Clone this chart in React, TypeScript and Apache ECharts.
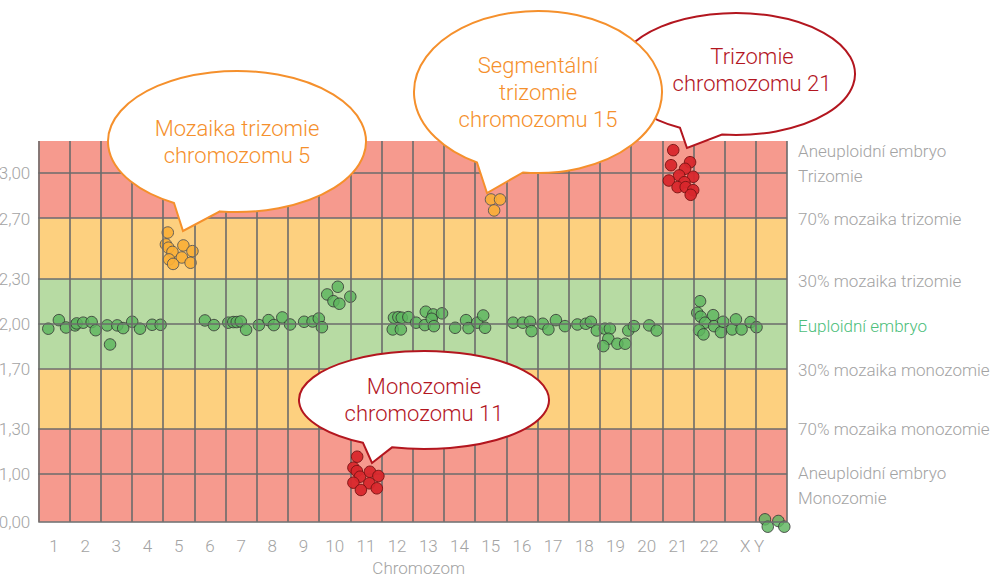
import React, { useEffect, useRef } from "react";
import * as echarts from "echarts";

// ---------- data ----------
const CHROMOSOMES = ["1","2","3","4","5","6","7","8","9","10","11","12","13","14","15","16","17","18","19","20","21","22","X","Y"];

const Y_TICKS = [0, 1, 1.3, 1.7, 2, 2.3, 2.7, 3];
const Y_TICK_LABELS = ["0,00", "1,00", "1,30", "1,70", "2,00", "2,30", "2,70", "3,00"];
const Y_TOP = 3.216;

const ZONE_LABELS = [
  "Aneuploidní embryo\nTrizomie",
  "70% mozaika trizomie",
  "30% mozaika trizomie",
  "Euploidní embryo",
  "30% mozaika monozomie",
  "70% mozaika monozomie",
  "Aneuploidní embryo\nMonozomie",
];
const ZONE_LABEL_VALUES = [3.065, 2.7, 2.285, 1.985, 1.69, 1.3, 0.753];

const BAND_EDGES = [0, 1.3, 1.7, 2.3, 2.7, Y_TOP];

// [position along chromosome axis, copy-number ratio]
const EUPLOID: number[][] = [
  [0.32,1.967],[0.66,2.024],[0.89,1.975],[1.18,1.989],[1.23,2.002],[1.44,2.007],[1.71,2.011],[1.84,1.957],
  [2.21,1.989],[2.30,1.862],[2.53,1.989],[2.72,1.971],[3.01,2.013],[3.26,1.967],[3.65,1.993],[3.92,1.993],
  [5.34,2.022],[5.63,1.991],[6.09,2.007],[6.25,2.011],[6.36,2.011],[6.49,2.015],[6.66,1.960],[7.07,1.991],
  [7.38,2.024],[7.55,1.991],[7.82,2.042],[8.07,1.995],[8.52,2.013],[8.79,2.015],[8.99,2.035],[9.09,1.977],
  [9.26,2.195],[9.60,2.246],[9.46,2.150],[9.65,2.133],[10.0,2.180],
  [11.40,2.040],[11.54,2.044],[11.65,2.040],[11.86,2.044],[11.36,1.962],[11.62,1.962],
  [12.11,2.007],[12.42,2.080],[12.39,1.991],[12.66,2.062],[12.61,2.033],[12.94,2.069],[12.68,1.984],
  [13.36,1.973],[13.71,2.024],[13.79,1.971],[14.07,2.007],[14.26,2.055],[14.32,1.973],
  [15.22,2.007],[15.53,2.007],[15.76,2.013],[15.81,1.951],[16.17,2.0],[16.35,1.962],[16.59,2.024],[16.88,1.984],
  [17.28,1.995],[17.55,2.0],[17.71,2.013],[17.90,1.955],[18.16,1.967],[18.32,1.967],[18.27,1.900],[18.11,1.851],
  [18.56,1.867],[18.81,1.867],[18.91,1.955],[19.09,1.984],[19.58,1.989],[19.82,1.955],
  [21.21,2.150],[21.12,2.073],[21.23,2.047],[21.37,2.007],[21.63,2.057],[21.66,1.984],[21.18,1.957],[21.32,1.929],
  [21.88,1.944],[21.95,2.013],[22.24,1.962],[22.36,2.029],[22.54,1.962],[22.83,2.011],[23.02,1.977],
];
const SEX_CHROMOSOMES: number[][] = [[23.29,0.05],[23.38,-0.105],[23.72,0.015],[23.91,-0.105]];
const MOSAIC_TRISOMY_5: number[][] = [
  [4.15,2.607],[4.09,2.528],[4.17,2.506],[4.30,2.478],[4.65,2.521],[4.94,2.483],[4.60,2.441],[4.19,2.428],[4.32,2.398],[4.88,2.406],
];
const SEGMENTAL_TRISOMY_15: number[][] = [[14.51,2.827],[14.80,2.827],[14.61,2.754]];
const TRISOMY_21: number[][] = [
  [20.35,3.155],[20.28,3.055],[20.89,3.075],[20.73,3.031],[20.54,2.987],[20.99,2.978],[20.21,2.953],[20.71,2.942],
  [20.49,2.909],[20.75,2.909],[20.99,2.889],[20.91,2.858],
];
const MONOSOMY_11: number[][] = [
  [10.22,1.115],[10.10,1.042],[10.21,1.019],[10.31,0.943],[10.63,1.015],[10.90,0.958],[10.10,0.818],[10.61,0.805],[10.34,0.665],[10.85,0.700],
];

const BUBBLE_TEXTS = [
  "Mozaika trizomie\nchromozomu 5",
  "Segmentální\ntrizomie\nchromozomu 15",
  "Trizomie\nchromozomu 21",
  "Monozomie\nchromozomu 11",
];

// ---------- styles ----------
const RED_BAND = "#F69A8E";
const ORANGE_BAND = "#FDD07F";
const GREEN_BAND = "#B7DBA3";
const BAND_COLORS = [RED_BAND, ORANGE_BAND, GREEN_BAND, ORANGE_BAND, RED_BAND];
const GRID_LINE = "#6b6b6b";
const LABEL_GRAY = "#a3a3a3";
const ORANGE = "#F5902C";
const DARK_RED = "#B3161F";
const FONT = "Roboto";

// display transform: the 0..1 segment is compressed
const LOW_SCALE = 0.3174;
const toDisplay = (v: number) => (v >= 1 ? LOW_SCALE + (v - 1) : v * LOW_SCALE);

// ---------- bubble shapes ----------
function bubblePath(cx: number, cy: number, rx: number, ry: number, ax1: number, ax2: number, tx: number, ty: number) {
  const y1 = cy + ry * Math.sqrt(1 - ((ax1 - cx) / rx) ** 2);
  const y2 = cy + ry * Math.sqrt(1 - ((ax2 - cx) / rx) ** 2);
  return `M${ax2} ${y2} A${rx} ${ry} 0 1 0 ${ax1} ${y1} L${tx} ${ty} Z`;
}
const BUBBLES = [
  { name: "bubbleChr5", d: bubblePath(237, 141.5, 129, 70.5, 174, 220, 183, 231), cx: 237, cy: 141.5, color: ORANGE, z: 110 },
  { name: "bubbleChr15", d: bubblePath(538, 92, 124, 81, 477, 523, 487, 193), cx: 538, cy: 92, color: ORANGE, z: 120 },
  { name: "bubbleChr21", d: bubblePath(736, 74, 119, 61, 680, 722, 687, 148), cx: 752, cy: 70, color: DARK_RED, z: 100 },
  { name: "bubbleChr11", d: bubblePath(424, 400, 125, 49, 363, 392, 372, 463), cx: 424, cy: 400, color: DARK_RED, z: 130 },
];
let registered = false;
function registerBubbles() {
  if (registered) return;
  registered = true;
  BUBBLES.forEach((b) => {
    echarts.graphic.registerShape(b.name, echarts.graphic.extendPath(b.d, {}) as any);
  });
}

export default function App() {
  const ref = useRef<HTMLDivElement>(null);
  useEffect(() => {
    if (!ref.current) return;
    registerBubbles();
    const chart = echarts.init(ref.current, null, { renderer: "svg" });

    const toPts = (arr: number[][]) => arr.map((p) => [p[0], toDisplay(p[1])]);
    const yMax = toDisplay(Y_TOP);

    const labelFor = (values: number[], labels: string[]) => (val: number) => {
      const i = values.findIndex((t) => Math.abs(toDisplay(t) - val) < 1e-6);
      if (i < 0) return "";
      if (labels[i] === "Euploidní embryo") return "{g|" + labels[i] + "}";
      return labels[i];
    };

    const dotSeries = (data: number[][], fill: string, border: string, opacity: number, z: number) => ({
      type: "scatter",
      xAxisIndex: 1,
      yAxisIndex: 0,
      data: toPts(data),
      symbol: "circle",
      symbolSize: 11.5,
      clip: false,
      silent: true,
      z,
      itemStyle: { color: fill, borderColor: border, borderWidth: 1, opacity },
    });

    const graphics: any[] = [];
    BUBBLES.forEach((b, i) => {
      graphics.push({
        type: b.name,
        x: 0,
        y: 0,
        z: b.z,
        silent: true,
        style: { fill: "#ffffff", stroke: b.color, lineWidth: 2 },
      });
      graphics.push({
        type: "text",
        x: b.cx,
        y: b.cy,
        z: b.z + 1,
        silent: true,
        style: {
          text: BUBBLE_TEXTS[i],
          fill: b.color,
          fontSize: 22,
          fontFamily: FONT,
          fontWeight: 300,
          lineHeight: 27,
          align: "center",
          verticalAlign: "middle",
          textAlign: "center",
          textVerticalAlign: "middle",
        },
      });
    });

    chart.setOption({
      animation: false,
      grid: { left: 38.3, right: 212.9, top: 141, bottom: 57.3, containLabel: false, outerBoundsMode: "none" },
      xAxis: [
        {
          type: "category",
          data: CHROMOSOMES,
          boundaryGap: true,
          name: "Chromozom",
          nameLocation: "middle",
          nameGap: 38,
          nameTextStyle: { color: LABEL_GRAY, fontSize: 17, fontFamily: FONT, fontWeight: 300, padding: [0, 0, 0, 12] },
          axisLine: { show: false },
          axisTick: { show: false },
          splitLine: { show: false },
          axisLabel: {
            color: LABEL_GRAY,
            fontSize: 17,
            fontFamily: FONT,
            fontWeight: 300,
            margin: 16,
            interval: 0,
            formatter: (v: string) => (v === "X" ? "{x|X}" : v === "Y" ? "{y|Y}" : v),
            rich: {
              x: { color: LABEL_GRAY, fontSize: 17, fontFamily: FONT, fontWeight: 300, padding: [0, 0, 0, 10] },
              y: { color: LABEL_GRAY, fontSize: 17, fontFamily: FONT, fontWeight: 300, padding: [0, 25, 0, 0] },
            },
          },
        },
        { type: "value", min: 0, max: 24, show: false },
      ],
      yAxis: [
        {
          type: "value",
          min: 0,
          max: yMax,
          axisLine: { show: false },
          axisTick: { show: false },
          splitLine: { show: false },
          axisLabel: {
            customValues: Y_TICKS.map(toDisplay),
            formatter: labelFor(Y_TICKS, Y_TICK_LABELS),
            color: LABEL_GRAY,
            fontSize: 17,
            fontFamily: FONT,
            fontWeight: 300,
            margin: 8,
          },
        },
        {
          type: "value",
          position: "right",
          min: 0,
          max: yMax,
          axisLine: { show: false },
          axisTick: { show: false },
          splitLine: { show: false },
          axisLabel: {
            customValues: ZONE_LABEL_VALUES.map(toDisplay),
            formatter: labelFor(ZONE_LABEL_VALUES, ZONE_LABELS),
            color: LABEL_GRAY,
            fontSize: 17,
            fontFamily: FONT,
            fontWeight: 300,
            lineHeight: 25,
            margin: 11,
            rich: {
              g: { color: "#4DBE7B", fontSize: 17, fontFamily: FONT, fontWeight: 300 },
            },
          },
        },
      ],
      series: [
        {
          type: "line",
          xAxisIndex: 1,
          yAxisIndex: 0,
          data: [],
          silent: true,
          z: 1,
          markArea: {
            silent: true,
            data: BAND_COLORS.map((c, i) => [
              { yAxis: toDisplay(BAND_EDGES[i]), itemStyle: { color: c } },
              { yAxis: toDisplay(BAND_EDGES[i + 1]) },
            ]),
          },
        },
        {
          type: "line",
          xAxisIndex: 1,
          yAxisIndex: 0,
          data: [],
          silent: true,
          z: 2,
          markLine: {
            silent: true,
            symbol: "none",
            label: { show: false },
            lineStyle: { color: GRID_LINE, width: 1.6, type: "solid" },
            emphasis: { disabled: true },
            data: [
              ...Y_TICKS.map((v) => ({ yAxis: toDisplay(v) })),
              ...CHROMOSOMES.map((_, i) => ({ xAxis: i })),
              { xAxis: CHROMOSOMES.length },
            ],
          },
        },
        dotSeries(EUPLOID, "#5DB45E", "#333333", 0.82, 3),
        dotSeries(SEX_CHROMOSOMES, "#5DB45E", "#333333", 0.82, 3),
        dotSeries(MOSAIC_TRISOMY_5, "#FAAE36", "#555555", 0.9, 4),
        dotSeries(SEGMENTAL_TRISOMY_15, "#FAAE36", "#555555", 0.9, 4),
        dotSeries(TRISOMY_21, "#D8272C", "#7a1414", 0.95, 5),
        dotSeries(MONOSOMY_11, "#D8272C", "#7a1414", 0.95, 5),
      ],
      graphic: { elements: graphics },
    });

    return () => chart.dispose();
  }, []);

  return <div ref={ref} style={{ position: "absolute", left: 0, top: 0, width: 1000, height: 579 }} />;
}
